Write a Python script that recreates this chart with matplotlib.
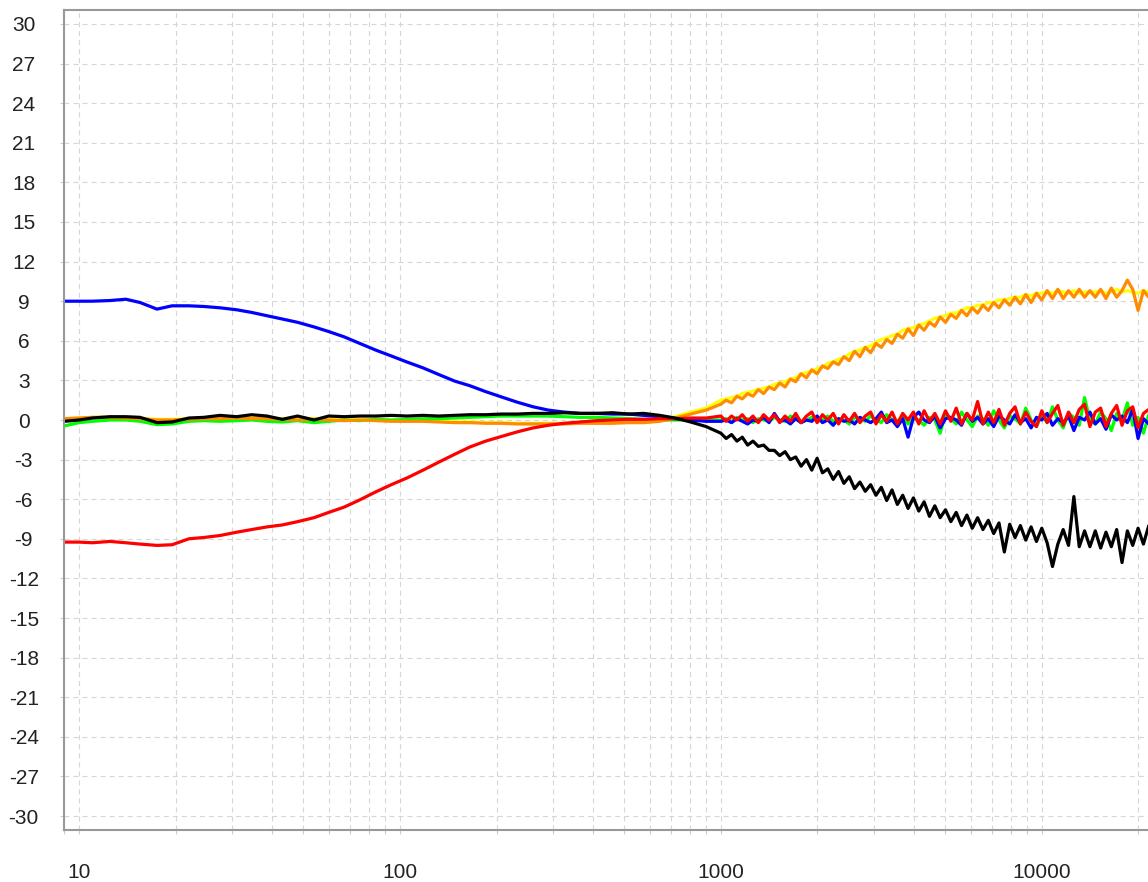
import matplotlib
matplotlib.use("Agg")
import matplotlib.pyplot as plt
from matplotlib.ticker import LogLocator, NullFormatter

# フォント設定
plt.rcParams['font.family'] = ['Liberation Sans', 'DejaVu Sans']
plt.rcParams['axes.unicode_minus'] = False
plt.rcParams['lines.scale_dashes'] = False

# 周波数 (Hz)
freq = [9, 10, 11, 12.5, 14, 15.5, 17.5, 19.5, 22, 24.5,
        27.5, 31, 34.5, 38.5, 43, 48, 54, 60, 67, 75,
        84, 94, 105, 118, 132, 148, 165, 185, 207, 232,
        260, 290, 325, 365, 410, 460, 515, 575, 645, 720,
        805, 900,
        1000, 1039, 1080, 1122, 1166, 1212, 1259, 1308, 1359, 1413,
        1468, 1525, 1585, 1647, 1711, 1778, 1848, 1920, 1995, 2073,
        2154, 2239, 2326, 2417, 2512, 2610, 2712, 2818, 2929, 3043,
        3162, 3286, 3415, 3548, 3687, 3831, 3981, 4137, 4299, 4467,
        4642, 4823, 5012, 5208, 5412, 5623, 5843, 6072, 6310, 6556,
        6813, 7080, 7356, 7644, 7943, 8254, 8577, 8913, 9261, 9624,
        10000, 10391, 10798, 11220, 11659, 12115, 12589, 13082, 13594, 14125,
        14678, 15252, 15849, 16469, 17113, 17783, 18478, 19201, 19953, 20733,
        21544, 22050]

# 各カーブの値 (dB)
blue = [9.0, 9.0, 9.0, 9.05, 9.15, 8.9, 8.4, 8.65, 8.65, 8.6,
        8.5, 8.35, 8.15, 7.9, 7.65, 7.4, 7.05, 6.7, 6.3, 5.8,
        5.3, 4.85, 4.4, 3.95, 3.45, 2.95, 2.6, 2.15, 1.75, 1.35,
        1.0, 0.75, 0.6, 0.5, 0.5, 0.45, 0.45, 0.35, 0.25, 0.1,
        0.0, -0.1,
        -0.1, 0.0, -0.2, 0.1, -0.1, -0.3, 0.0, -0.1, 0.2, -0.2,
        0.5, -0.1, 0.0, -0.3, 0.1, -0.2, 0.0, -0.1, 0.3, -0.2,
        0.0, -0.4, 0.1, -0.1, 0.0, -0.3, 0.2, 0.0, -0.2, 0.1,
        0.6, -0.2, 0.0, -0.5, 0.1, -1.3, 0.2, 0.6, 0.0, -0.2,
        0.3, -0.6, 0.1, 0.2, 0.0, -0.4, 0.5, -0.1, 0.2, -0.3,
        0.1, -0.5, 0.3, 0.0, -0.3, 0.4, -0.2, 0.1, -0.6, 0.2,
        0.0, 0.5, -0.4, 0.1, -0.2, 0.3, -0.8, 0.2, 0.0, 0.6,
        -0.3, 0.1, -0.7, 0.4, 0.0, 0.3, -0.2, 0.8, -1.4, 0.1,
        -0.3, 0.2]

red = [-9.25, -9.25, -9.3, -9.2, -9.3, -9.4, -9.5, -9.45, -9.0, -8.9,
       -8.75, -8.5, -8.3, -8.1, -7.95, -7.7, -7.4, -7.0, -6.6, -6.05,
       -5.45, -4.9, -4.4, -3.8, -3.2, -2.6, -2.05, -1.6, -1.25, -0.9,
       -0.6, -0.4, -0.25, -0.15, -0.05, 0.0, 0.05, 0.05, 0.1, 0.1,
       0.15, 0.15,
       0.3, -0.1, 0.3, 0.0, 0.4, -0.1, 0.3, -0.2, 0.4, 0.0,
       0.4, -0.2, 0.3, -0.1, 0.5, -0.2, 0.3, 0.6, -0.2, 0.4,
       0.0, 0.5, -0.3, 0.4, -0.1, 0.5, -0.2, 0.3, 0.6, -0.3,
       0.4, -0.1, 0.6, -0.3, 0.5, 0.0, 0.6, -0.3, 0.7, -0.1,
       0.5, -0.3, 0.7, -0.1, 0.9, -0.3, 0.5, 0.0, 1.4, -0.3,
       0.6, -0.2, 0.8, -0.4, 0.5, 1.0, -0.3, 0.6, -0.1, -0.5,
       0.7, -0.2, 0.5, 1.1, -0.4, 0.6, -0.2, 0.8, 1.2, -0.5,
       0.6, 0.9, -0.5, 0.5, 1.1, -0.4, 0.7, 1.0, -0.6, 0.5,
       0.8, 0.1]

green = [-0.45, -0.2, -0.1, 0.0, 0.0, -0.1, -0.35, -0.3, -0.1, -0.05,
         -0.1, -0.05, 0.0, -0.1, -0.15, -0.05, -0.2, -0.1, 0.0, -0.05,
         0.05, 0.0, 0.05, 0.1, 0.1, 0.15, 0.2, 0.25, 0.3, 0.3,
         0.3, 0.3, 0.25, 0.2, 0.2, 0.15, 0.1, 0.05, 0.0, 0.0,
         0.0, 0.0,
         0.0, 0.1, -0.1, 0.2, 0.0, 0.1, -0.2, 0.1, 0.0, -0.1,
         0.2, 0.0, -0.1, 0.3, 0.1, -0.2, 0.0, 0.2, -0.1, 0.0,
         0.3, -0.1, 0.1, 0.0, -0.3, 0.2, 0.1, -0.1, 0.3, 0.0,
         -0.2, 0.4, 0.0, -0.1, 0.3, -0.3, 0.1, 0.0, -0.4, 0.2,
         0.0, -1.0, 0.5, 0.1, -0.3, 0.6, 0.0, -0.5, 0.3, 0.1,
         -0.4, 0.7, 0.0, -0.6, 0.3, 0.1, -0.3, 0.9, 0.0, -0.5,
         0.4, -0.2, 1.0, 0.0, -0.6, 0.5, 0.2, -0.4, 1.7, 0.0,
         -0.3, 0.6, 0.1, -0.8, 0.5, 0.0, 1.3, -0.4, 0.2, -1.0,
         0.4, 0.0]

black = [-0.1, 0.0, 0.15, 0.25, 0.25, 0.2, -0.2, -0.15, 0.15, 0.2,
         0.35, 0.25, 0.4, 0.3, 0.05, 0.3, 0.0, 0.3, 0.25, 0.3,
         0.3, 0.35, 0.3, 0.35, 0.3, 0.35, 0.4, 0.4, 0.45, 0.45,
         0.5, 0.5, 0.55, 0.5, 0.5, 0.55, 0.45, 0.5, 0.35, 0.15,
         -0.15, -0.5,
         -1.0, -1.4, -1.1, -1.6, -1.3, -1.9, -1.6, -2.0, -1.9, -2.3,
         -2.3, -2.7, -2.4, -3.0, -2.8, -3.5, -3.0, -3.8, -2.9, -4.0,
         -3.7, -4.5, -3.9, -4.8, -4.3, -5.2, -4.7, -5.4, -4.9, -5.7,
         -5.1, -6.1, -5.3, -6.4, -5.7, -6.7, -5.9, -6.9, -6.2, -7.3,
         -6.5, -7.4, -6.8, -7.7, -7.0, -8.0, -7.2, -8.2, -7.4, -8.3,
         -7.6, -8.6, -7.8, -10.0, -7.9, -8.9, -8.0, -9.1, -8.1, -9.2,
         -8.2, -9.3, -11.1, -9.4, -8.3, -9.5, -5.8, -9.6, -8.4, -9.6,
         -8.4, -9.7, -8.5, -9.6, -8.3, -10.8, -8.4, -9.5, -8.2, -9.4,
         -8.0, -9.0]

orange = [0.1, 0.15, 0.2, 0.2, 0.15, 0.1, 0.0, 0.0, 0.05, 0.1,
          0.1, 0.15, 0.1, 0.1, 0.05, 0.0, 0.05, 0.0, -0.05, 0.0,
          -0.05, -0.1, -0.1, -0.1, -0.15, -0.2, -0.2, -0.25, -0.25, -0.3,
          -0.3, -0.3, -0.3, -0.25, -0.25, -0.25, -0.2, -0.2, -0.1, 0.15,
          0.45, 0.75,
          1.2, 1.5, 1.3, 1.8, 1.6, 2.0, 1.8, 2.3, 2.0, 2.5,
          2.3, 2.8, 2.5, 3.1, 2.9, 3.5, 3.2, 3.8, 3.5, 4.1,
          3.9, 4.4, 4.2, 4.8, 4.5, 5.2, 4.8, 5.5, 5.1, 5.8,
          5.5, 6.1, 5.8, 6.5, 6.2, 6.9, 6.4, 7.2, 6.8, 7.4,
          7.1, 7.8, 7.4, 8.0, 7.7, 8.3, 7.9, 8.5, 8.1, 8.7,
          8.3, 8.9, 8.5, 9.1, 8.7, 9.3, 8.8, 9.5, 8.9, 9.6,
          9.1, 9.8, 9.2, 9.9, 9.2, 9.8, 9.3, 9.9, 9.3, 9.8,
          9.3, 9.9, 9.2, 10.0, 9.3, 9.8, 10.6, 9.9, 8.3, 9.8,
          9.3, 9.7]

yellow = [0.1, 0.15, 0.2, 0.2, 0.15, 0.1, 0.05, 0.05, 0.1, 0.15,
          0.15, 0.2, 0.15, 0.15, 0.1, 0.15, 0.1, 0.05, 0.1, 0.05,
          0.0, 0.0, -0.05, -0.05, -0.1, -0.15, -0.15, -0.2, -0.2, -0.25,
          -0.25, -0.25, -0.25, -0.2, -0.2, -0.2, -0.15, -0.15, -0.05, 0.25,
          0.6, 0.9,
          1.5, 1.6, 1.7, 1.8, 2.0, 2.1, 2.2, 2.3, 2.4, 2.5,
          2.7, 2.8, 2.9, 3.1, 3.2, 3.5, 3.6, 3.7, 3.9, 4.0,
          4.3, 4.4, 4.6, 4.7, 5.0, 5.2, 5.3, 5.5, 5.6, 5.9,
          6.1, 6.2, 6.4, 6.5, 6.8, 6.9, 7.0, 7.2, 7.3, 7.5,
          7.7, 7.8, 7.9, 8.1, 8.1, 8.3, 8.5, 8.5, 8.7, 8.7,
          8.9, 8.9, 9.1, 9.1, 9.2, 9.3, 9.3, 9.5, 9.4, 9.6,
          9.6, 9.7, 9.6, 9.8, 9.7, 9.6, 9.8, 9.6, 9.7, 9.7,
          9.7, 9.8, 9.6, 9.7, 9.9, 9.7, 9.8, 9.7, 9.6, 9.8,
          9.7, 9.7]

# 軸の目盛り
x_ticks = [10, 100, 1000, 10000]
x_ticklabels = ["10", "100", "1000", "10000"]
y_ticks = list(range(-30, 31, 3))

# 描画順（後ろほど上に重なる）
curves = [
    (yellow, "#ffff00"),
    (green, "#00ff00"),
    (blue, "#0000ff"),
    (orange, "#ff8c00"),
    (red, "#ff0000"),
    (black, "#000000"),
]

W, H = 1148, 882
fig = plt.figure(figsize=(W / 100, H / 100), dpi=100)
# 右端は画像の外にはみ出す
ax = fig.add_axes([64 / W, (H - 830) / H, 1088 / W, 820 / H])

for vals, col in curves:
    ax.plot(freq, vals, color=col, linewidth=2.3)

ax.set_xscale('log')
ax.set_xlim(8.98, 22050)
ax.set_ylim(-31.06, 31.06)

ax.set_xticks(x_ticks)
ax.set_xticklabels(x_ticklabels)
ax.xaxis.set_minor_locator(LogLocator(base=10, subs=[2, 3, 4, 5, 6, 7, 8, 9]))
ax.xaxis.set_minor_formatter(NullFormatter())
ax.set_yticks(y_ticks)
ax.set_yticklabels([str(v) for v in y_ticks])

# グリッド
ax.set_axisbelow(True)
ax.grid(which='major', color='#d6d6d6', linestyle=(0, (3.6, 2.9)), linewidth=0.8)
ax.grid(which='minor', axis='x', color='#d6d6d6', linestyle=(0, (3.6, 2.9)), linewidth=0.8)

ax.tick_params(which='both', direction='out', length=3, width=0.8, color='#cccccc',
               labelsize=15, labelcolor='#222222')
ax.tick_params(axis='x', pad=21)
ax.tick_params(axis='y', pad=26)
for lab in ax.get_yticklabels():
    lab.set_horizontalalignment('center')

for s in ax.spines.values():
    s.set_color('#999999')
    s.set_linewidth(1.5)

fig.savefig("out.png", dpi=100, facecolor='white')
